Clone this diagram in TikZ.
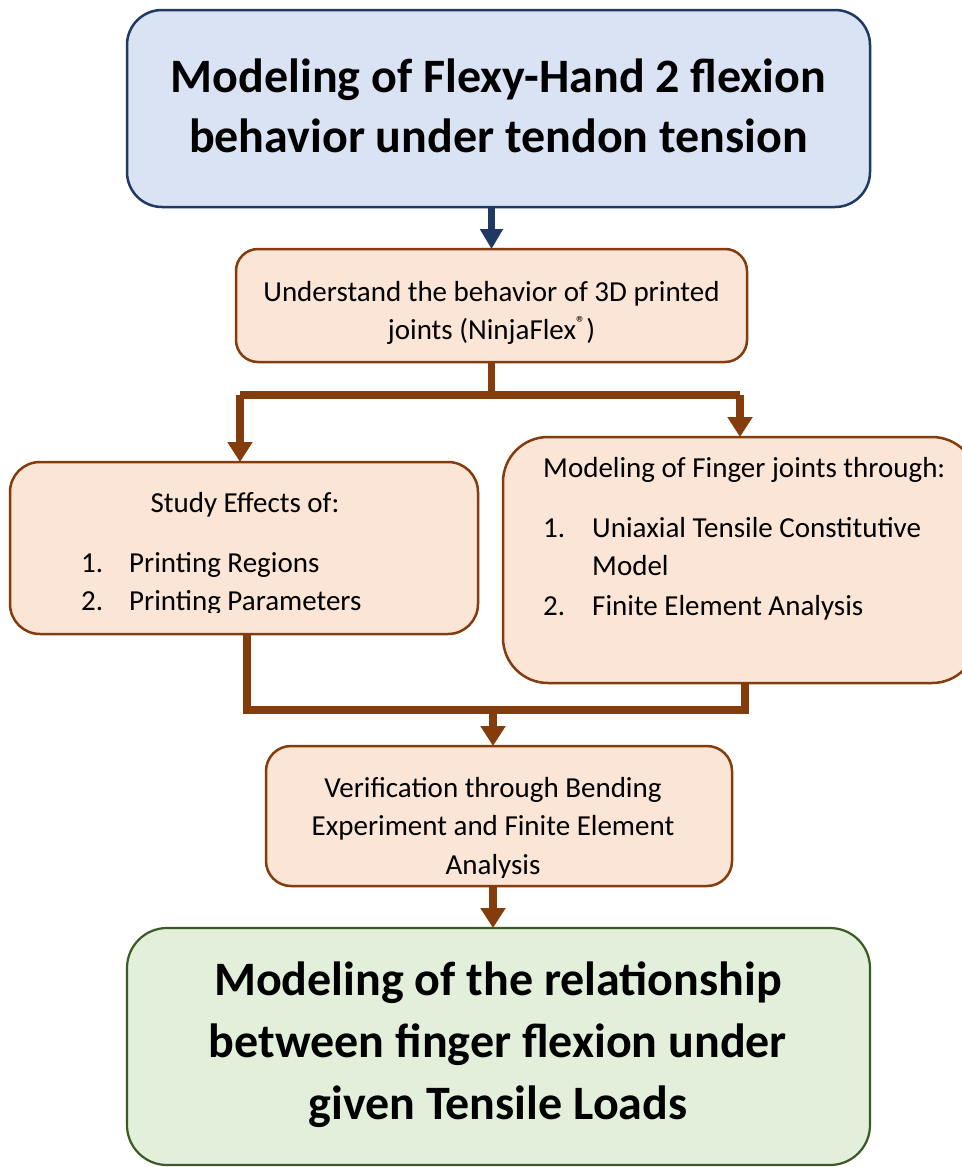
\documentclass[tikz,border=0pt]{standalone}
\usepackage{fontspec}
\setmainfont{Carlito}
\usetikzlibrary{arrows.meta}
\definecolor{navy}{HTML}{203864}
\definecolor{navyfill}{HTML}{DAE3F3}
\definecolor{brn}{HTML}{843C0C}
\definecolor{peach}{HTML}{FBE5D6}
\definecolor{grn}{HTML}{3A5A26}
\definecolor{grnfill}{HTML}{E2EFDA}
\begin{document}
\begin{tikzpicture}[x=1pt,y=-1pt,
  box/.style={rectangle, inner sep=0pt, outer sep=0pt},
  bluebox/.style={box, draw=navy, fill=navyfill, line width=2.5pt},
  peachbox/.style={box, draw=brn, fill=peach, line width=2.5pt},
  greenbox/.style={box, draw=grn, fill=grnfill, line width=2.2pt},
  title/.style={inner sep=0pt, anchor=base, font=\fontsize{48}{58}\selectfont\bfseries},
  body/.style={inner sep=0pt, anchor=base, font=\fontsize{29}{35}\selectfont},
  bodyw/.style={body, anchor=base west},
  brnline/.style={draw=brn, line width=7.5pt},
  brnarrow/.style={brnline, -{Triangle[width=24pt,length=20pt]}},
  navyarrow/.style={draw=navy, line width=7pt, -{Triangle[width=22pt,length=20pt]}}
]
\useasboundingbox (0,0) rectangle (961,1167);
\fill[white] (0,0) rectangle (961,1167);

% boxes
\node[bluebox, rounded corners=35pt, minimum width=743pt, minimum height=197pt] (top) at (498.5,108.5) {};
\node[peachbox, rounded corners=22pt, minimum width=511pt, minimum height=113pt] (und) at (491.5,305.5) {};
\node[peachbox, rounded corners=30pt, minimum width=468pt, minimum height=172pt] (study) at (244,548) {};
\node[peachbox, rounded corners=45pt, minimum width=474pt, minimum height=246pt] (model) at (740,560) {};
\node[peachbox, rounded corners=25pt, minimum width=466pt, minimum height=140pt] (ver) at (499,816) {};
\node[greenbox, rounded corners=40pt, minimum width=743pt, minimum height=237pt] (res) at (498.5,1046.5) {};

% texts
\node[title] (t1) at (498.5,92) {Modeling of Flexy-Hand 2 flexion};
\node[title] (t2) at (498.5,152) {behavior under tendon tension};

\node[body] (u1) at (491.5,301) {Understand the behavior of 3D printed};
\node[body] (u2) at (491.5,339) {joints (NinjaFlex\textsuperscript{\fontsize{19}{19}\selectfont ®})};

\begin{scope}
\clip (10,462) rectangle (478,612);
\node[body] (s0) at (245,512) {Study Effects of:};
\node[bodyw] (s1n) at (81,572) {1.};
\node[bodyw] (s1) at (129,572) {Printing Regions};
\node[bodyw] (s2n) at (81,610) {2.};
\node[bodyw] (s2) at (129,610) {Printing Parameters};
\end{scope}

\node[bodyw] (m0) at (543,477) {Modeling of Finger joints through:};
\node[bodyw] (m1n) at (543,537) {1.};
\node[bodyw] (m1) at (592,537) {Uniaxial Tensile Constitutive};
\node[bodyw] (m1b) at (592,575) {Model};
\node[bodyw] (m2n) at (543,615) {2.};
\node[bodyw] (m2) at (592,615) {Finite Element Analysis};

\begin{scope}
\clip (266,746) rectangle (732,877);
\node[body] (v1) at (493,797) {Verification through Bending};
\node[body] (v2) at (493,835) {Experiment and Finite Element};
\node[body] (v3) at (493,874) {Analysis};
\end{scope}

\node[title] (r1) at (498,995) {Modeling of the relationship};
\node[title] (r2) at (498,1057) {between finger flexion under};
\node[title] (r3) at (498,1119) {given Tensile Loads};

% connectors
\draw[navyarrow] (top.south -| und.north) -- (und.north);

\coordinate (j1) at (491.5,395);
\coordinate (jl) at (240,395);
\coordinate (jr) at (740,395);
\draw[brnline] (und.south) -- (j1);
\draw[brnline] (jl) -- (jr);
\draw[brnarrow] (jl) -- (jl |- study.north);
\draw[brnarrow] (jr) -- (jr |- model.north);

\coordinate (k1) at (247,710);
\coordinate (k2) at (745,710);
\coordinate (km) at (493,710);
\draw[brnline] (study.south -| k1) -- (k1) -- (k2) -- (k2 |- model.south);
\draw[brnarrow] (km) -- (km |- ver.north);
\draw[brnarrow] (ver.south -| km) -- (km |- res.north);
\end{tikzpicture}
\end{document}
